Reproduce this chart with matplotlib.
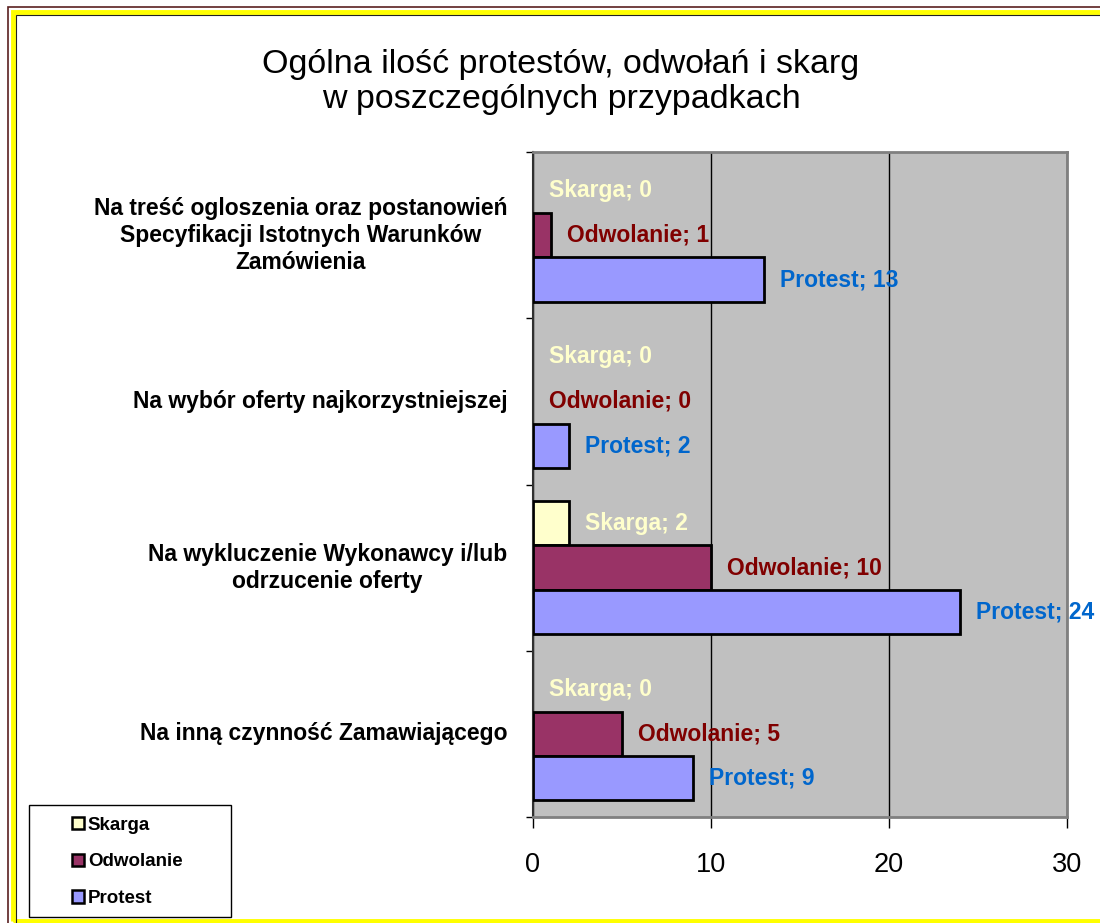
import matplotlib
matplotlib.use("Agg")
import matplotlib.pyplot as plt
import numpy as np
from matplotlib.patches import Rectangle, Patch

plt.rcParams["font.family"] = ["Liberation Sans", "DejaVu Sans"]

categories = [
    "Na treść ogloszenia oraz postanowień\nSpecyfikacji Istotnych Warunków\nZamówienia",
    "Na wybór oferty najkorzystniejszej",
    "Na wykluczenie Wykonawcy i/lub\nodrzucenie oferty",
    "Na inną czynność Zamawiającego",
]
series_names = ["Skarga", "Odwolanie", "Protest"]
skarga = [0, 0, 2, 0]
odwolanie = [1, 0, 10, 5]
protest = [13, 2, 24, 9]

fills = ["#FFFFCC", "#993366", "#9999FF"]
label_colors = ["#FFFFCC", "#800000", "#0066CC"]

W, H = 1100, 923
fig = plt.figure(figsize=(W / 100, H / 100), dpi=100)
fig.patch.set_facecolor("white")


def px_rect(x0, y0, x1, y1, **kw):
    # rectangle given in pixel coords (origin top-left)
    return Rectangle((x0 / W, 1 - y1 / H), (x1 - x0) / W, (y1 - y0) / H,
                     transform=fig.transFigure, fill=kw.pop("fill", False), **kw)


# frame around the chart (brown / yellow / dark lines)
fig.patches.append(px_rect(7.5, 7.5, 1140, 1000, edgecolor="#5A2020", linewidth=1.2))
fig.patches.append(px_rect(12.5, 11.5, 1140, 920.5, edgecolor="#FFFF00", linewidth=3.5))
fig.patches.append(px_rect(15.5, 14.5, 1140, 1000, edgecolor="#222222", linewidth=0.8))

ax = fig.add_axes([533 / W, 1 - 817 / H, (1067 - 533) / W, (817 - 152) / H])
ax.set_facecolor("#C0C0C0")

y = np.arange(len(categories))
h = 0.267
for k, (vals, name) in enumerate(zip([skarga, odwolanie, protest], series_names)):
    pos = y + (k - 1) * h
    ax.barh(pos, vals, height=h, color=fills[k], edgecolor="black",
            linewidth=[2 if v > 0 else 0 for v in vals], zorder=3)
    for p, v in zip(pos, vals):
        ax.annotate(f"{name}; {v}", xy=(v, p), xytext=(11.5, 0),
                    textcoords="offset points", ha="left", va="center",
                    fontsize=16.5, fontweight="bold", color=label_colors[k],
                    zorder=4, annotation_clip=False)

ax.set_xlim(0, 30)
ax.set_ylim(len(categories) - 0.5, -0.5)
ax.set_xticks([0, 10, 20, 30])
ax.tick_params(axis="x", length=8, width=1, labelsize=19.5, pad=17)
ax.set_yticks(np.arange(-0.5, len(categories), 1.0))
ax.set_yticklabels([])
ax.tick_params(axis="y", length=5, width=1)
ax.grid(axis="x", color="black", linewidth=1, zorder=1)
ax.set_axisbelow(True)
for side in ["top", "right", "bottom"]:
    ax.spines[side].set_color("#808080")
    ax.spines[side].set_linewidth(2)
ax.spines["left"].set_color("#303030")
ax.spines["left"].set_linewidth(1.5)

# category labels, right aligned with centred lines
for yi, cat in zip(y, categories):
    ax.text(-1.45, yi, cat, ha="right", va="center", multialignment="center",
            fontsize=16.5, fontweight="bold", linespacing=1.22)

fig.text(561 / W, 1 - 82 / H,
         "Ogólna ilość protestów, odwołań i skarg\nw poszczególnych przypadkach",
         ha="center", va="center", fontsize=24.5, linespacing=1.15)

# legend box
fig.patches.append(px_rect(28.5, 804.5, 230.5, 916.5, edgecolor="black", linewidth=1,
                           facecolor="white", fill=True))
handles = [Patch(facecolor=c, edgecolor="black", linewidth=1.8) for c in fills]
fig.legend(handles, series_names, loc="center left",
           bbox_to_anchor=(55 / W, 1 - 862 / H), frameon=False,
           handlelength=0.65, handleheight=0.65, handletextpad=0.2,
           labelspacing=1.05, prop={"size": 13.5, "weight": "bold"})

fig.savefig("out.png", dpi=100)
